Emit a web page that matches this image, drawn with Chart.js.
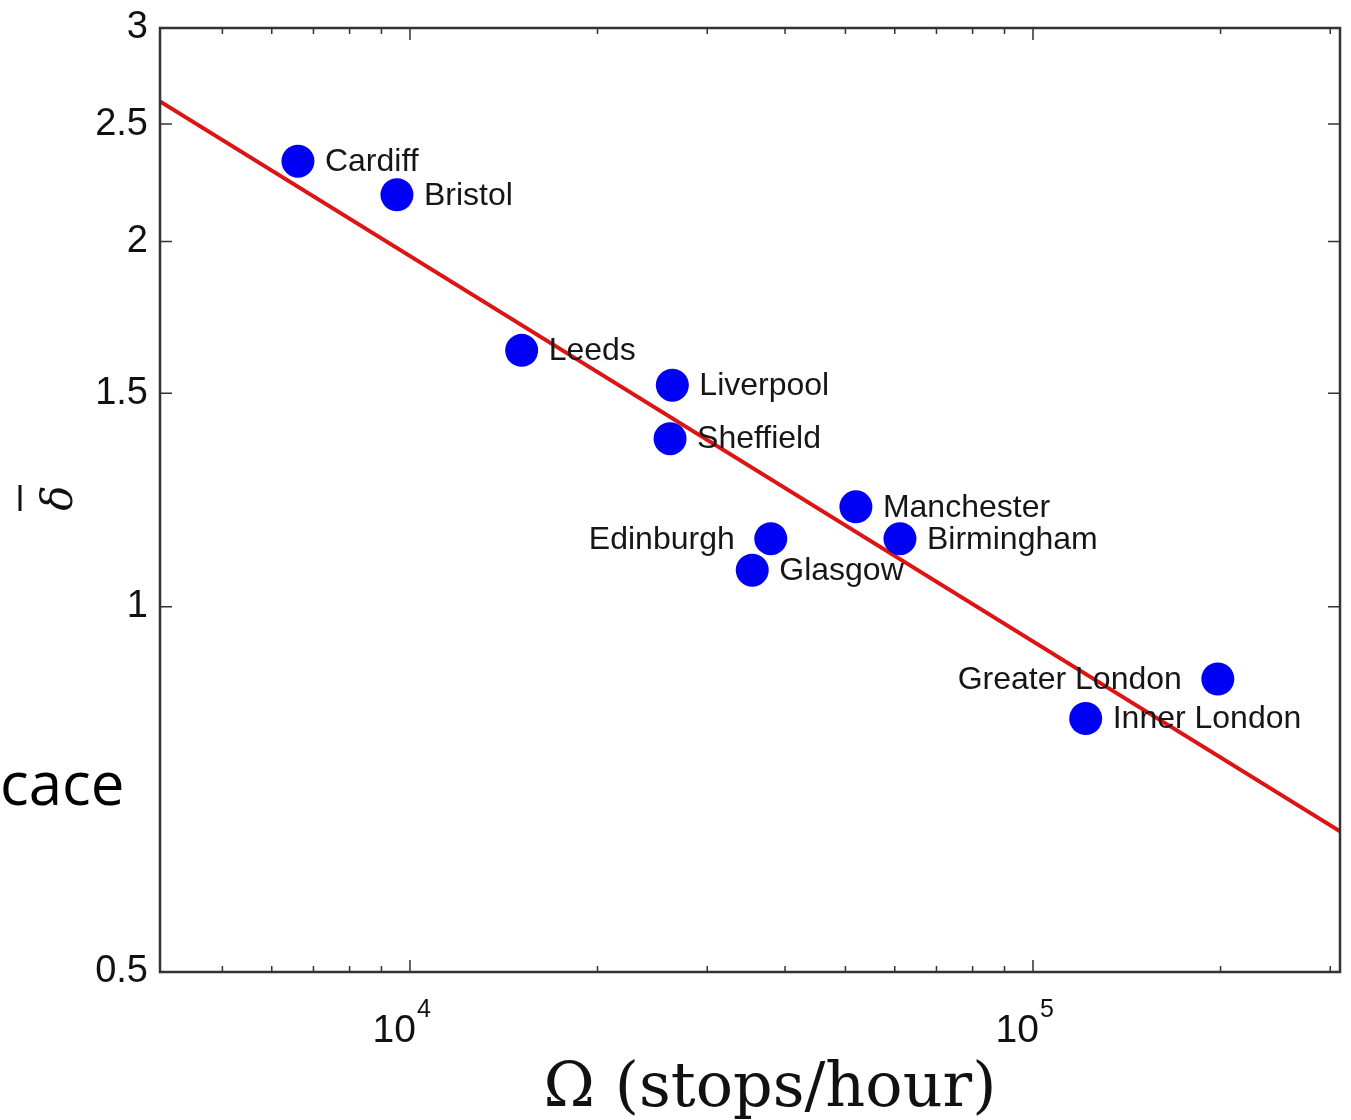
<!DOCTYPE html>
<html>
<head>
<meta charset="utf-8">
<script src="https://cdn.jsdelivr.net/npm/chart.js@4.4.1/dist/chart.umd.min.js"></script>
<style>
  html, body { margin: 0; padding: 0; background: #fff; }
  #wrap { position: relative; width: 1351px; height: 1120px; }
  #cut { position: absolute; left: 0; top: 752px; font-family: 'Open Sans', sans-serif; font-size: 60px; line-height: 1; color: #000; }
</style>
</head>
<body>
<div id="wrap">
  <canvas id="chart" width="1351" height="1120"></canvas>
  <div id="cut">cace</div>
</div>
<script>
// cities, stops per hour (Ω) and mean delta (δ̄)
const cities       = ['Cardiff', 'Bristol', 'Leeds', 'Liverpool', 'Sheffield', 'Manchester',
                      'Edinburgh', 'Birmingham', 'Glasgow', 'Greater London', 'Inner London'];
const stopsPerHour = [6610, 9530, 15110, 26370, 26150, 51970, 37940, 61160, 35430, 198000, 121500];
const deltaBar     = [2.33, 2.186, 1.627, 1.523, 1.376, 1.209, 1.138, 1.138, 1.072, 0.872, 0.809];
const labelSide    = ['r', 'r', 'r', 'r', 'r', 'r', 'l', 'r', 'r', 'l', 'r'];

// fitted power law (two ends of the red line)
const fitStops = [3970, 311000];
const fitDelta = [2.61, 0.653];

// ticks
const yTickValues = [0.5, 1, 1.5, 2, 2.5, 3];
const xMajorTicks = [1e4, 1e5];
const xMinorTicks = [5e3, 6e3, 7e3, 8e3, 9e3, 2e4, 3e4, 4e4, 5e4, 6e4, 7e4, 8e4, 9e4, 2e5, 3e5];
const xTickExp    = ['4', '5'];

const X_MIN = 3970, X_MAX = 311000;
const Y_MIN = 0.5, Y_MAX = 3;

const SANS  = '"Liberation Sans", Arial, sans-serif';
const SERIF = '"DejaVu Serif", serif';

// frame, inward ticks, x tick labels, axis titles and city labels
const framePlugin = {
  id: 'frame',
  afterDatasetsDraw(chart) {
    const { ctx, chartArea: a, scales: { x, y } } = chart;
    ctx.save();
    ctx.strokeStyle = '#333';
    ctx.lineWidth = 1.5;
    ctx.beginPath();
    xMajorTicks.concat(xMinorTicks).forEach(v => {
      const px = x.getPixelForValue(v);
      const len = xMajorTicks.includes(v) ? 12 : 6;
      ctx.moveTo(px, a.bottom); ctx.lineTo(px, a.bottom - len);
      ctx.moveTo(px, a.top);    ctx.lineTo(px, a.top + len);
    });
    yTickValues.forEach(v => {
      const py = y.getPixelForValue(v);
      ctx.moveTo(a.left, py);  ctx.lineTo(a.left + 12, py);
      ctx.moveTo(a.right, py); ctx.lineTo(a.right - 12, py);
    });
    ctx.stroke();

    ctx.lineWidth = 2.5;
    ctx.strokeRect(a.left, a.top, a.right - a.left, a.bottom - a.top);

    // x tick labels: 10 with a raised exponent
    ctx.fillStyle = '#111';
    ctx.textBaseline = 'alphabetic';
    xMajorTicks.forEach((v, i) => {
      const px = x.getPixelForValue(v);
      ctx.font = '39px ' + SANS;
      ctx.textAlign = 'right';
      ctx.fillText('10', px + 6, a.bottom + 70);
      ctx.font = '25px ' + SANS;
      ctx.textAlign = 'left';
      ctx.fillText(xTickExp[i], px + 7, a.bottom + 45);
    });

    // x axis title
    ctx.font = '62px ' + SERIF;
    ctx.textAlign = 'center';
    ctx.fillText('\u03A9 (stops/hour)', 770, 1106);

    // y axis title: italic delta with a bar, rotated
    ctx.save();
    ctx.translate(72, 498);
    ctx.rotate(-Math.PI / 2);
    ctx.font = 'italic 42px ' + SERIF;
    ctx.textAlign = 'center';
    ctx.fillText('\u03B4', 0, 0);
    ctx.lineWidth = 3;
    ctx.strokeStyle = '#111';
    ctx.beginPath();
    ctx.moveTo(-13, -52); ctx.lineTo(13, -52);
    ctx.stroke();
    ctx.restore();

    // city labels
    ctx.fillStyle = '#161616';
    ctx.font = '32px ' + SANS;
    ctx.textBaseline = 'middle';
    cities.forEach((name, i) => {
      const px = x.getPixelForValue(stopsPerHour[i]);
      const py = y.getPixelForValue(deltaBar[i]);
      if (labelSide[i] === 'l') {
        ctx.textAlign = 'right';
        ctx.fillText(name, px - 36, py + 1);
      } else {
        ctx.textAlign = 'left';
        ctx.fillText(name, px + 27, py + 1);
      }
    });
    ctx.restore();
  }
};

new Chart(document.getElementById('chart'), {
  type: 'scatter',
  data: {
    datasets: [
      {
        label: 'cities',
        data: stopsPerHour.map((v, i) => ({ x: v, y: deltaBar[i] })),
        backgroundColor: '#0000f5',
        borderColor: '#0000f5',
        borderWidth: 0,
        pointRadius: 16.5,
        pointHoverRadius: 16.5,
        order: 1
      },
      {
        type: 'line',
        label: 'fit',
        data: fitStops.map((v, i) => ({ x: v, y: fitDelta[i] })),
        borderColor: '#dc1414',
        borderWidth: 4,
        pointRadius: 0,
        fill: false,
        order: 2
      }
    ]
  },
  options: {
    responsive: false,
    animation: false,
    devicePixelRatio: 1,
    layout: { autoPadding: false, padding: { top: 28, right: 11, left: 0, bottom: 0 } },
    plugins: { legend: { display: false }, tooltip: { enabled: false } },
    scales: {
      x: {
        type: 'logarithmic',
        min: X_MIN, max: X_MAX,
        grid: { display: false, drawTicks: false },
        border: { display: false },
        afterBuildTicks: s => { s.ticks = xMajorTicks.map(v => ({ value: v })); },
        afterFit: s => { s.height = 148; s.paddingLeft = 0; s.paddingRight = 0; },
        ticks: { display: false }
      },
      y: {
        type: 'logarithmic',
        min: Y_MIN, max: Y_MAX,
        grid: { display: false, drawTicks: false },
        border: { display: false },
        afterBuildTicks: s => { s.ticks = yTickValues.map(v => ({ value: v })); },
        afterFit: s => { s.width = 160; s.paddingTop = 0; s.paddingBottom = 0; },
        ticks: {
          autoSkip: false, padding: 12,
          color: '#111',
          font: { family: SANS, size: 38 },
          callback: v => String(v)
        }
      }
    }
  },
  plugins: [framePlugin]
});
</script>
</body>
</html>
